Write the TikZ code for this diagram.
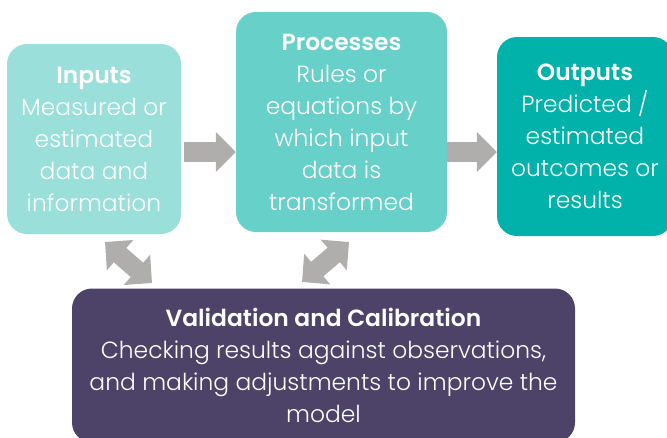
\documentclass[tikz,border=0pt]{standalone}
\usepackage{fontspec}
\setmainfont{Poppins}[UprightFont=* Light, BoldFont=* SemiBold]
\usetikzlibrary{arrows.meta}
\definecolor{inC}{HTML}{9ADFDA}
\definecolor{procC}{HTML}{67D0C9}
\definecolor{outC}{HTML}{00B2A9}
\definecolor{valC}{HTML}{4D4369}
\definecolor{arrC}{HTML}{AFAEAC}
\begin{document}
\begin{tikzpicture}[x=1pt,y=-1pt,
  box/.style={rounded corners=20pt, inner sep=0pt, text=white, align=center,
    font=\fontsize{23.4}{32}\selectfont},
  flowarrow/.style={draw=arrC, line width=20pt, -{Triangle[length=20pt,width=39pt]}},
  linkarrow/.style={draw=arrC, line width=19pt,
    {Triangle[length=20pt,width=39pt]}-{Triangle[length=20pt,width=39pt]}}]
\useasboundingbox (0,0) rectangle (667,437);

% stages of the model
\node[box, fill=inC, minimum width=174pt, minimum height=190pt] (inputs) at (94,139)
  {{\bfseries Inputs}\\Measured or\\estimated\\data and\\information};
\node[box, fill=procC, minimum width=211pt, minimum height=220pt] (processes) at (341.5,122)
  {{\bfseries Processes}\\Rules or\\equations by\\which input\\data is\\transformed};
\node[box, fill=outC, minimum width=176pt, minimum height=199pt] (outputs) at (585,136.5)
  {{\bfseries Outputs}\\Predicted /\\estimated\\outcomes or\\results};
\node[box, fill=valC, minimum width=503pt, minimum height=154pt] (validation) at (323.5,365.5)
  {{\bfseries Validation and Calibration}\\Checking results against observations,\\and making adjustments to improve the\\model};

% flow between stages
\coordinate (flowy) at (0,152);
\draw[flowarrow, shorten <=3pt] (inputs.east |- flowy) -- (processes.west |- flowy);
\draw[flowarrow] (processes.east |- flowy) -- (outputs.west |- flowy);

% feedback with validation
\coordinate (ia) at (105,242);
\coordinate (ib) at (152,283);
\coordinate (pa) at (349,242);
\coordinate (pb) at (302,282);
\draw[linkarrow] (ia) -- (ib);
\draw[linkarrow] (pa) -- (pb);
\end{tikzpicture}
\end{document}
